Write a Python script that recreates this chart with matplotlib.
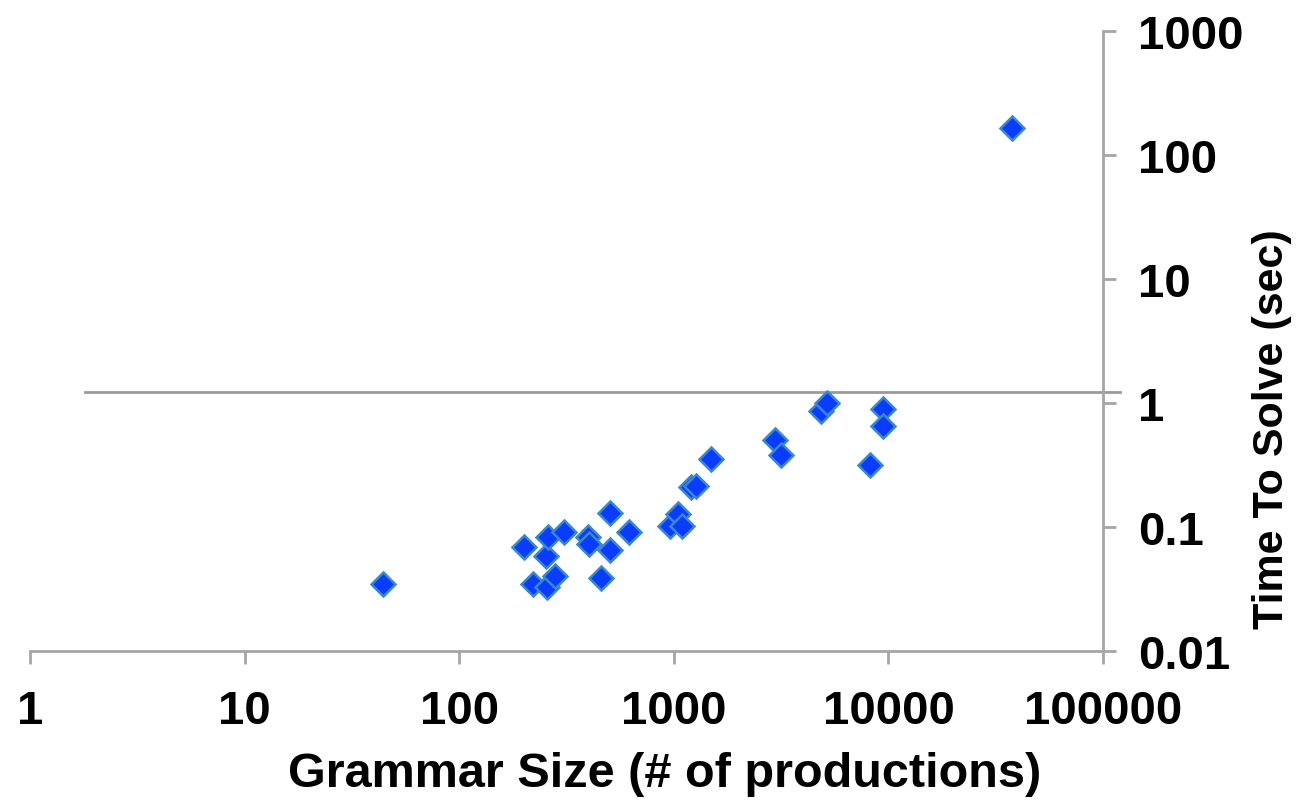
import matplotlib.pyplot as plt
from matplotlib.ticker import FixedLocator, NullLocator

# grammar size (# of productions) and time to solve (sec)
grammar_size = [44, 201, 220, 254, 256, 260, 280, 308, 397, 404, 458, 504, 504,
                618, 960, 1042, 1088, 1200, 1270, 1490, 2963, 3160, 4850, 5190,
                8210, 9400, 9400, 37700]
solve_time = [0.035, 0.0685, 0.035, 0.058, 0.0326, 0.083, 0.040, 0.092, 0.083, 0.073,
              0.039, 0.130, 0.065, 0.092, 0.102, 0.127, 0.102, 0.21, 0.215, 0.353,
              0.503, 0.381, 0.87, 1.0, 0.318, 0.895, 0.656, 165]

x_ticks = [1, 10, 100, 1000, 10000, 100000]
x_tick_labels = ["1", "10", "100", "1000", "10000", "100000"]
y_ticks = [0.01, 0.1, 1, 10, 100, 1000]
y_tick_labels = ["0.01", "0.1", "1", "10", "100", "1000"]
ref_line = 1.23

plt.rcParams['font.family'] = ['Liberation Sans', 'DejaVu Sans']
plt.rcParams['font.weight'] = 'bold'

fig = plt.figure(figsize=(13, 8.03), dpi=100)
ax = fig.add_axes([0.0231, 0.188, 0.8254, 0.772])

ax.set_xscale('log')
ax.set_yscale('log')
ax.set_xlim(1, 100000)
ax.set_ylim(0.01, 1000)

ax.axhline(ref_line, xmin=0.051, xmax=1.016, color='#9a9a9a', lw=2, clip_on=False, zorder=1)

ax.plot(grammar_size, solve_time, 'D', ms=12.5, color='#0a3cff',
        markeredgecolor='#3c88c8', markeredgewidth=1.8, zorder=3)

for s in ['left', 'top']:
    ax.spines[s].set_visible(False)
for s in ['bottom', 'right']:
    ax.spines[s].set_color('#a6a6a6')
    ax.spines[s].set_linewidth(2)

ax.xaxis.set_major_locator(FixedLocator(x_ticks))
ax.xaxis.set_minor_locator(NullLocator())
ax.set_xticklabels(x_tick_labels)
ax.yaxis.set_major_locator(FixedLocator(y_ticks))
ax.yaxis.set_minor_locator(NullLocator())
ax.set_yticklabels(y_tick_labels)

ax.yaxis.tick_right()
ax.yaxis.set_label_position('right')
ax.tick_params(axis='x', direction='out', length=9, width=2, color='#a6a6a6',
               pad=18, labelsize=34)
ax.tick_params(axis='y', direction='out', length=9, width=2, color='#a6a6a6',
               pad=16, labelsize=34)

ax.set_xlabel("Grammar Size (# of productions)", fontsize=35, fontweight='bold',
              va='center', ha='center')
ax.xaxis.set_label_coords(0.591, -0.198)
ax.set_ylabel("Time To Solve (sec)", fontsize=31, fontweight='bold', rotation=90,
              va='center', ha='center')
ax.yaxis.set_label_coords(1.1575, 0.36)

fig.savefig('out.png', dpi=100)
